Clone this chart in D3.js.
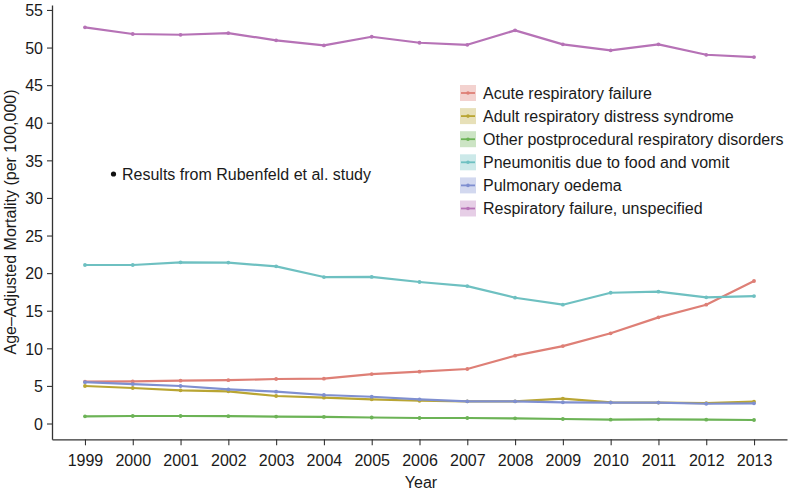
<!DOCTYPE html>
<html><head><meta charset="utf-8">
<script src="https://cdn.jsdelivr.net/npm/d3@7"></script>
<style>body{margin:0;background:#fff}svg{display:block}text{font-family:"Liberation Sans",Arial,Helvetica,sans-serif}</style>
</head><body>
<svg id="c" width="788" height="492"></svg>
<script>
const years = [1999,2000,2001,2002,2003,2004,2005,2006,2007,2008,2009,2010,2011,2012,2013];
const seriesNames = ["Acute respiratory failure","Adult respiratory distress syndrome","Other postprocedural respiratory disorders","Pneumonitis due to food and vomit","Pulmonary oedema","Respiratory failure, unspecified"];
const acuteRF   = [5.56,5.6,5.7,5.76,5.92,5.96,6.58,6.89,7.25,9.02,10.3,12.0,14.12,15.8,18.95];
const ards      = [4.99,4.72,4.41,4.28,3.66,3.43,3.22,3.03,2.95,2.95,3.3,2.82,2.78,2.7,2.9];
const otherPost = [0.96,1.0,1.0,0.98,0.92,0.88,0.8,0.73,0.73,0.69,0.6,0.51,0.55,0.51,0.47];
const pneumon   = [21.08,21.08,21.44,21.4,20.9,19.48,19.5,18.82,18.28,16.73,15.8,17.39,17.53,16.78,16.95];
const pulmOed   = [5.5,5.25,4.99,4.55,4.23,3.79,3.56,3.22,2.95,2.95,2.82,2.78,2.78,2.63,2.68];
const rfUnspec  = [52.69,51.8,51.7,51.93,50.96,50.29,51.44,50.64,50.37,52.29,50.43,49.63,50.43,49.04,48.74];
const yTicks = [0,5,10,15,20,25,30,35,40,45,50,55];
const annotation = "Results from Rubenfeld et al. study";
const xTitle = "Year", yTitle = "Age\u2013Adjusted Mortality (per 100,000)";

const allValues = [acuteRF,ards,otherPost,pneumon,pulmOed,rfUnspec];
const colors = ["#de7f76","#b9a533","#6cb356","#6ec0c1","#7f8fd0","#b672b6"];
const FS = "16px";

const svg = d3.select("#c");
const x = d3.scaleLinear().domain([1998.31,2013.69]).range([52,787]);
const y = d3.scaleLinear().domain([-2.1,55.66]).range([439.3,5]);

// axes
const gx = svg.append("g").attr("transform","translate(0,439.3)")
  .call(d3.axisBottom(x).tickValues(years).tickFormat(d3.format("d")).tickSize(6).tickSizeOuter(0));
const gy = svg.append("g").attr("transform","translate(52,0)")
  .call(d3.axisLeft(y).tickValues(yTicks).tickSize(5).tickSizeOuter(0));
[gx,gy].forEach(g=>{
  g.select(".domain").attr("stroke","#333").attr("stroke-width",1.3);
  g.selectAll(".tick line").attr("stroke","#333").attr("stroke-width",1.1);
  g.selectAll(".tick text").attr("fill","#1a1a1a").style("font-size",FS);
});
gx.selectAll(".tick text").attr("y",0).attr("dy","1.65em");
gy.selectAll(".tick text").attr("x",-9).attr("dy","0.36em");

svg.append("text").attr("x",421).attr("y",488).attr("text-anchor","middle")
  .style("font-size",FS).attr("fill","#1a1a1a").text(xTitle);
svg.append("text").attr("transform","translate(15.5,222) rotate(-90)").attr("text-anchor","middle")
  .style("font-size",FS).attr("fill","#1a1a1a").text(yTitle);

// lines
const line = d3.line().x((d,i)=>x(years[i])).y(d=>y(d));
allValues.forEach((vals,k)=>{
  svg.append("path").datum(vals).attr("d",line).attr("fill","none")
    .attr("stroke",colors[k]).attr("stroke-width",2.2).attr("stroke-linejoin","round");
  svg.append("g").selectAll("circle").data(vals).join("circle")
    .attr("cx",(d,i)=>x(years[i])).attr("cy",d=>y(d)).attr("r",1.9).attr("fill",colors[k]);
});

// annotation
svg.append("circle").attr("cx",113.5).attr("cy",174).attr("r",2.6).attr("fill","#111");
svg.append("text").attr("x",122).attr("y",179.5).style("font-size",FS).attr("fill","#1a1a1a").text(annotation);

// legend
const lg = svg.append("g").attr("transform","translate(460,85)");
seriesNames.forEach((n,k)=>{
  const row = lg.append("g").attr("transform",`translate(0,${k*23.1})`);
  row.append("rect").attr("x",0).attr("y",0).attr("width",16).attr("height",16)
    .attr("fill",colors[k]).attr("fill-opacity",0.35);
  row.append("line").attr("x1",1).attr("x2",15).attr("y1",8).attr("y2",8)
    .attr("stroke",colors[k]).attr("stroke-width",1.8);
  row.append("circle").attr("cx",8).attr("cy",8).attr("r",1.8).attr("fill",colors[k]);
  row.append("text").attr("x",23).attr("y",8).attr("dy","0.36em").style("font-size",FS)
    .attr("fill","#1a1a1a").text(n);
});
</script>
</body></html>
